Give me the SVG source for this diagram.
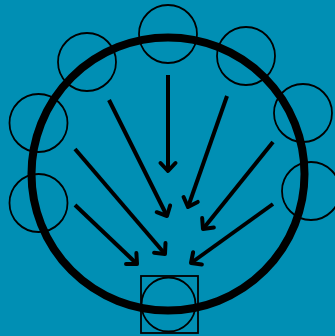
<svg xmlns="http://www.w3.org/2000/svg" width="335" height="336" viewBox="0 0 335 336">
<defs>
<style>
.bg{fill:#008fb4}
.ring{fill:none;stroke:#000;stroke-width:8}
.node{fill:none;stroke:#000;stroke-width:1.8}
.arrow{fill:none;stroke:#000;stroke-width:4;marker-end:url(#head)}
</style>
<marker id="head" markerUnits="userSpaceOnUse" markerWidth="30" markerHeight="30" refX="0" refY="0" orient="auto" overflow="visible">
<path d="M-8,-7.5 L0,0 L-8,7.5" fill="none" stroke="#000" stroke-width="4" stroke-linejoin="round" stroke-linecap="round"/>
</marker>
</defs>
<rect class="bg" x="0" y="0" width="335" height="336"/>
<g id="ring"><circle class="ring" cx="168" cy="174" r="136.5"/></g>
<g id="n-top"><circle class="node" cx="168" cy="34" r="29"/></g>
<g id="n-ul"><circle class="node" cx="87" cy="62" r="29"/></g>
<g id="n-ur"><circle class="node" cx="246" cy="56" r="29"/></g>
<g id="n-l"><circle class="node" cx="38.5" cy="123" r="29"/></g>
<g id="n-r"><circle class="node" cx="303" cy="113" r="29"/></g>
<g id="n-ll"><circle class="node" cx="38.5" cy="203" r="29"/></g>
<g id="n-lr"><circle class="node" cx="311" cy="191" r="29"/></g>
<g id="n-bottom"><rect class="node" x="141" y="276" width="57" height="57"/><circle class="node" cx="168.5" cy="304.5" r="27"/></g>
<g id="connectors">
<line class="arrow" x1="168" y1="75" x2="168" y2="171"/>
<line class="arrow" x1="109" y1="100" x2="167" y2="216"/>
<line class="arrow" x1="227" y1="96" x2="188" y2="207"/>
<line class="arrow" x1="75" y1="149" x2="165" y2="254"/>
<line class="arrow" x1="273" y1="142" x2="203" y2="229"/>
<line class="arrow" x1="75" y1="205" x2="137" y2="264"/>
<line class="arrow" x1="273" y1="204" x2="191" y2="263"/>
</g>
</svg>
